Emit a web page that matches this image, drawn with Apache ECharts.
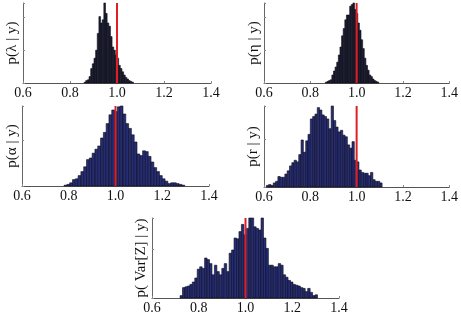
<!DOCTYPE html>
<html>
<head>
<meta charset="utf-8">
<script src="https://cdn.jsdelivr.net/npm/echarts@6/dist/echarts.min.js"></script>
<style>
  html, body { margin: 0; padding: 0; background: #fff; }
  #main { width: 461px; height: 317px; }
</style>
</head>
<body>
<div id="main"></div>
<script>
// histogram data: bin start, bin width, relative heights (peak = 1)
const xTicks = [0.6, 0.8, 1.0, 1.2, 1.4]
const trueValue = 1.0

const lambdaStart = 0.86
const lambdaWidth = 0.007
const lambdaHeights = [0.01, 0.03, 0.04, 0.08, 0.18, 0.24, 0.31, 0.41, 0.62, 0.83, 0.75, 0.79, 1.0, 0.87, 0.75,
  0.71, 0.58, 0.45, 0.41, 0.35, 0.31, 0.22, 0.18, 0.14, 0.10, 0.07, 0.05, 0.03, 0.02, 0.01]

const etaStart = 0.865
const etaWidth = 0.007
const etaHeights = [0.01, 0.02, 0.03, 0.04, 0.10, 0.15, 0.20, 0.26, 0.35, 0.45, 0.59, 0.68, 0.79, 0.85, 0.85,
  0.96, 0.98, 1.0, 0.92, 0.87, 0.75, 0.66, 0.54, 0.43, 0.31, 0.22, 0.16, 0.10, 0.08, 0.05, 0.03, 0.02, 0.01]

const alphaStart = 0.78
const alphaWidth = 0.012
const alphaHeights = [0.01, 0.02, 0.04, 0.08, 0.09, 0.13, 0.18, 0.24, 0.33, 0.35, 0.41, 0.46, 0.50, 0.60, 0.67,
  0.78, 0.89, 0.95, 0.93, 0.99, 1.0, 0.90, 0.78, 0.72, 0.64, 0.55, 0.40, 0.38, 0.44, 0.43, 0.37, 0.30, 0.23,
  0.18, 0.13, 0.09, 0.06, 0.03, 0.04, 0.04, 0.03, 0.02, 0.01]

const rStart = 0.61
const rWidth = 0.01
const rHeights = [0.02, 0.03, 0.02, 0.05, 0.07, 0.13, 0.12, 0.12, 0.16, 0.20, 0.26, 0.30, 0.33, 0.31, 0.40,
  0.58, 0.43, 0.57, 0.65, 0.84, 0.87, 0.90, 0.98, 0.95, 0.89, 0.87, 0.84, 0.72, 1.0, 0.82, 0.74, 0.68, 0.70,
  0.64, 0.62, 0.52, 0.48, 0.56, 0.33, 0.31, 0.21, 0.18, 0.17, 0.17, 0.14, 0.18, 0.09, 0.07, 0.07, 0.05]

const varZStart = 0.72
const varZWidth = 0.0105
const varZHeights = [0.03, 0.13, 0.14, 0.15, 0.17, 0.20, 0.25, 0.36, 0.39, 0.37, 0.50, 0.48, 0.43, 0.29, 0.41,
  0.33, 0.29, 0.37, 0.43, 0.33, 0.56, 0.60, 0.75, 0.74, 0.83, 0.92, 0.79, 0.87, 1.0, 1.0, 0.89, 0.87, 0.85,
  1.0, 0.75, 0.62, 0.41, 0.41, 0.39, 0.39, 0.43, 0.41, 0.29, 0.26, 0.22, 0.20, 0.17, 0.16, 0.15, 0.13, 0.12,
  0.08, 0.12, 0.07, 0.03, 0.04]

const panels = [
  {name: 'p(λ | y)', start: lambdaStart, width: lambdaWidth, heights: lambdaHeights, fill: '#1c1d33',
    grid: {left: 23, top: 3, width: 188, height: 80}, tick: 0.4125, gap: 3},
  {name: 'p(η | y)', start: etaStart, width: etaWidth, heights: etaHeights, fill: '#1c1d33',
    grid: {left: 264, top: 3, width: 188, height: 80}, tick: 0.4125, gap: 2},
  {name: 'p(α | y)', start: alphaStart, width: alphaWidth, heights: alphaHeights, fill: '#262d78',
    grid: {left: 22, top: 106, width: 187, height: 80}, tick: 0.575, gap: 2},
  {name: 'p(r | y)', start: rStart, width: rWidth, heights: rHeights, fill: '#262d78',
    grid: {left: 264, top: 106, width: 188, height: 81}, tick: 0.59, gap: 3},
  {name: 'p( Var[Z] | y)', start: varZStart, width: varZWidth, heights: varZHeights, fill: '#262d78',
    grid: {left: 152, top: 218, width: 187, height: 80}, tick: 0.61, gap: 3}
]

const serif = "'Liberation Serif', 'DejaVu Serif', serif"

const makeRender = fill => (params, api) => {
  const p0 = api.coord([api.value(0), api.value(2)])
  const p1 = api.coord([api.value(1), 0])
  return {
    type: 'rect',
    shape: {x: p0[0], y: p0[1], width: p1[0] - p0[0], height: p1[1] - p0[1]},
    style: {fill: fill, stroke: '#0b0b16', lineWidth: 0.6}
  }
}

const grids = []
const xAxes = []
const yAxes = []
const series = []

panels.forEach((p, i) => {
  grids.push(Object.assign({containLabel: false}, p.grid))
  xAxes.push({
    type: 'value',
    gridIndex: i,
    min: xTicks[0],
    max: xTicks[xTicks.length - 1],
    interval: 0.2,
    axisLine: {lineStyle: {color: '#555', width: 1}},
    axisTick: {show: true, inside: true, length: 2, lineStyle: {color: '#888'}},
    splitLine: {show: false},
    axisLabel: {
      margin: 3,
      color: '#111',
      fontFamily: serif,
      fontSize: 14,
      formatter: v => v.toFixed(1)
    }
  })
  yAxes.push({
    type: 'value',
    gridIndex: i,
    min: 0,
    max: 1,
    interval: p.tick,
    name: p.name,
    nameLocation: 'middle',
    nameGap: p.gap,
    nameTextStyle: {fontFamily: serif, fontSize: 15, color: '#111'},
    axisLine: {show: true, lineStyle: {color: '#666', width: 1}},
    axisTick: {show: true, inside: true, length: 2, lineStyle: {color: '#888'}},
    axisLabel: {show: false},
    splitLine: {show: false}
  })
  series.push({
    type: 'custom',
    xAxisIndex: i,
    yAxisIndex: i,
    renderItem: makeRender(p.fill),
    encode: {x: [0, 1], y: 2},
    silent: true,
    data: p.heights.map((h, k) => [p.start + k * p.width, p.start + (k + 1) * p.width, h])
  })
  series.push({
    type: 'line',
    xAxisIndex: i,
    yAxisIndex: i,
    symbol: 'none',
    silent: true,
    z: 5,
    lineStyle: {color: '#e01e24', width: 2},
    data: [[trueValue, 0], [trueValue, 1]]
  })
})

const chart = echarts.init(document.getElementById('main'))
chart.setOption({
  animation: false,
  backgroundColor: '#fff',
  grid: grids,
  xAxis: xAxes,
  yAxis: yAxes,
  series: series
})
</script>
</body>
</html>
